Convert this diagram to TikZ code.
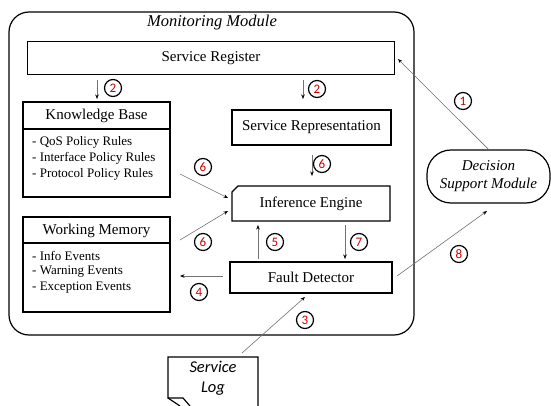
\documentclass[tikz,border=0pt]{standalone}
\usepackage{fontspec}
\setmainfont{Liberation Serif}
\newfontfamily\calib{Carlito}
\usetikzlibrary{arrows.meta}
\begin{document}
\begin{tikzpicture}[x=1pt,y=-1pt,
  box/.style={draw,line width=1.2pt,inner sep=0pt,font=\fontsize{15}{17}\selectfont},
  title/.style={inner sep=0pt,font=\fontsize{15}{17}\selectfont},
  frame/.style={line width=1.2pt},
  flow/.style={draw=black!55,line width=0.6pt,-{Stealth[length=4.5pt,width=3.5pt,black]}},
  num/.style={circle,draw,line width=1.2pt,inner sep=0pt,minimum size=17pt,
    text=red!80!black,font=\calib\fontsize{13}{13}\selectfont},
  item/.style={anchor=west,inner sep=0pt,font=\fontsize{13}{15}\selectfont}]
\useasboundingbox (0,0) rectangle (551,406);
\fill[white] (0,0) rectangle (551,406);

% monitoring module frame
\draw[frame,rounded corners=20pt] (9,12) rectangle (414,335);
\node[font=\itshape\fontsize{16.5}{18}\selectfont] (mm) at (212,23) {Monitoring Module};

% service register
\node[box,minimum width=367pt,minimum height=33pt] (sr) at (211,58) {Service Register};

% knowledge base
\draw[frame] (23,102) rectangle (170,197);
\draw[frame] (23,129) -- (170,129);
\node[title] (kb) at (96.5,116) {Knowledge Base};
\node[item] (kb1) at (32,142) {- QoS Policy Rules};
\node[item] (kb2) at (32,158) {- Interface Policy Rules};
\node[item] (kb3) at (32,174) {- Protocol Policy Rules};
\coordinate (kbout) at (180,174);

% working memory
\draw[frame] (23,217) rectangle (170,312);
\draw[frame] (23,243) -- (170,243);
\node[title] (wm) at (96.5,230.5) {Working Memory};
\node[item] (wm1) at (32,256) {- Info Events};
\node[item] (wm2) at (32,272) {- Warning Events};
\node[item] (wm3) at (32,288) {- Exception Events};
\coordinate (wmout) at (180,240);
\coordinate (wmin) at (180,276);

% service representation
\node[box,minimum width=159pt,minimum height=35pt] (rep) at (311.5,127.5) {Service Representation};

% inference engine (cut top-left corner)
\draw[frame] (238,186) -- (390,186) -- (390,221) -- (232,221) -- (232,192) -- cycle;
\node[title] (ie) at (311,204) {Inference Engine};

% fault detector
\node[box,minimum width=162pt,minimum height=31pt] (fd) at (311,277.5) {Fault Detector};

% decision support module
\node[draw,line width=1.2pt,rounded corners=24pt,minimum width=123pt,minimum height=53pt,
  align=center,font=\itshape\fontsize{15}{18}\selectfont] (dsm) at (488.5,176.5) {Decision\\Support Module};

% service log document
\draw[frame] (258,406) -- (258,357) -- (168,357) -- (168,398) -- (183,398) -- (190,406);
\draw[frame] (168,398) -- (180,406);
\node[align=center,font=\calib\itshape\fontsize{16.5}{20}\selectfont] (log) at (213,378) {Service\\Log};

% connectors
\draw[flow] (dsm.north) -- (398,59);
\draw[flow] (97,80) -- (97,99);
\draw[flow] (303,80) -- (303,99);
\draw[flow] (312,155) -- (312,176);
\draw[flow] (kbout) -- (228,198);
\draw[flow] (wmout) -- (228,211);
\draw[flow] (258,259) -- (258,225);
\draw[flow] (345,225) -- (345,259);
\draw[flow] (223,276) -- (wmin);
\draw[flow] (242,353) -- (305,297);
\draw[flow] (397,276) -- (487,211);

% step numbers
\node[num] (n1) at (463,101) {1};
\node[num] (n2a) at (113,88) {2};
\node[num] (n2b) at (317,89) {2};
\node[num] (n6a) at (322,164) {6};
\node[num] (n6b) at (203,167) {6};
\node[num] (n6c) at (203,242) {6};
\node[num] (n5) at (275,242) {5};
\node[num] (n7) at (359,242) {7};
\node[num] (n4) at (199,292) {4};
\node[num] (n3) at (305,320) {3};
\node[num] (n8) at (459,254) {8};
\end{tikzpicture}
\end{document}
